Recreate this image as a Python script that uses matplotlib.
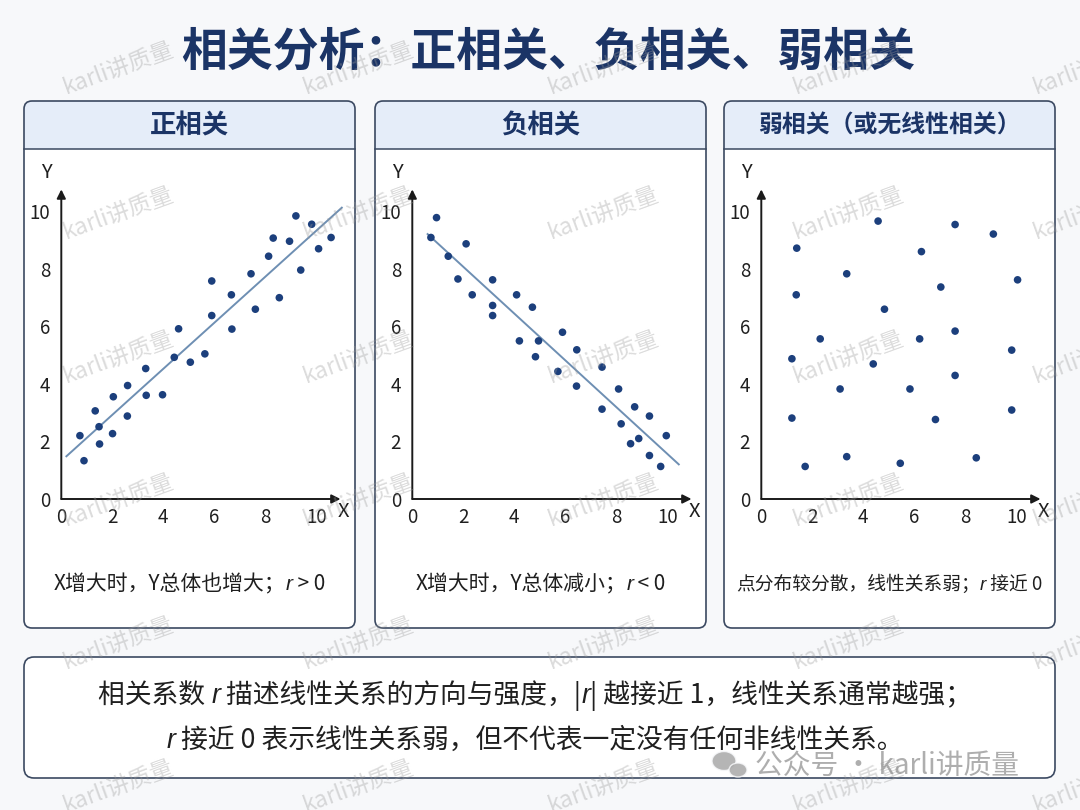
import matplotlib.pyplot as plt
import numpy as np
from matplotlib.patches import FancyBboxPatch, Rectangle, Ellipse

# ================= DATA =================
TITLE = "相关分析：正相关、负相关、弱相关"
PANEL_TITLES = ["正相关", "负相关", "弱相关（或无线性相关）"]

POS_X = [0.73, 0.89, 1.33, 1.48, 1.50, 2.04, 2.01, 2.60, 2.59, 3.31, 3.33, 3.97, 4.43, 4.60, 5.06, 5.63,
         5.90, 5.90, 6.67, 6.69, 7.44, 7.61, 8.13, 8.31, 8.55, 8.95, 9.20, 9.39, 9.82, 10.09, 10.58]
POS_Y = [2.20, 1.33, 3.06, 2.51, 1.91, 3.55, 2.27, 3.94, 2.88, 4.53, 3.60, 3.62, 4.92, 5.91, 4.75, 5.04,
         7.57, 6.37, 7.09, 5.90, 7.82, 6.59, 8.43, 9.06, 6.99, 8.95, 9.83, 7.95, 9.54, 8.69, 9.08]

NEG_X = [0.73, 0.95, 1.41, 1.79, 2.11, 2.35, 3.15, 3.15, 3.15, 4.09, 4.20, 4.71, 4.83, 4.95, 5.71,
         5.89, 6.45, 6.44, 7.44, 7.44, 8.09, 8.19, 8.56, 8.72, 8.88, 9.30, 9.30, 9.74, 9.96]
NEG_Y = [9.08, 9.77, 8.43, 7.64, 8.86, 7.09, 7.61, 6.72, 6.37, 7.09, 5.49, 6.66, 4.94, 5.49, 4.43,
         5.79, 5.18, 3.92, 4.58, 3.12, 3.82, 2.61, 1.92, 3.20, 2.10, 2.88, 1.51, 1.13, 2.20]

WEAK_X = [4.58, 7.60, 9.10, 1.39, 6.28, 3.35, 10.05, 1.37, 7.04, 4.83, 2.31, 6.21, 7.60,
          1.20, 4.39, 9.82, 7.60, 3.09, 5.83, 1.20, 6.83, 9.82, 1.72, 3.35, 5.45, 8.43]
WEAK_Y = [9.65, 9.53, 9.20, 8.71, 8.59, 7.82, 7.61, 7.09, 7.36, 6.59, 5.56, 5.56, 5.83,
          4.87, 4.69, 5.17, 4.29, 3.82, 3.82, 2.81, 2.76, 3.09, 1.13, 1.47, 1.24, 1.43]

TICKS = [0, 2, 4, 6, 8, 10]

# caption pieces: (text, italic)
CAPTIONS = [
    [("X增大时，Y总体也增大；", False), ("r", True), (" > 0", False)],
    [("X增大时，Y总体减小；", False), ("r", True), (" < 0", False)],
    [("点分布较分散，线性关系弱；", False), ("r", True), (" 接近 0", False)],
]
NOTE_LINES = [
    [("相关系数 ", False), ("r", True), (" 描述线性关系的方向与强度，|", False), ("r", True),
     ("| 越接近 1，线性关系通常越强；", False)],
    [("r", True), (" 接近 0 表示线性关系弱，但不代表一定没有任何非线性关系。", False)],
]

# ================= STYLE =================
W, H = 1080, 810
BG = "#f7f8fa"
NAVY = "#1b3466"
DOT = "#1c3f7c"
FIT = "#6e8fb3"
BORDER = "#3b4961"
HEAD_FILL = "#e5edf9"
TEXT = "#1f1f1f"
CJK = ["Noto Sans CJK SC", "DejaVu Sans"]
ITALIC_FAMILY = ["Liberation Sans", "DejaVu Sans"]

plt.rcParams["font.family"] = CJK

fig = plt.figure(figsize=(W / 100, H / 100), dpi=100, facecolor=BG)
renderer = fig.canvas.get_renderer()


def inch(px, py):
    # convert top-left pixel coords to inches from bottom-left
    return px / 100, (H - py) / 100


def round_box(x0, y0, x1, y1, fc, ec="none", lw=0.0, r=0.08, z=0.5):
    bx, by = inch(x0, y1)
    p = FancyBboxPatch((bx, by), (x1 - x0) / 100, (y1 - y0) / 100,
                       boxstyle=f"round,pad=0,rounding_size={r}",
                       transform=fig.dpi_scale_trans, facecolor=fc, edgecolor=ec,
                       linewidth=lw, zorder=z)
    fig.patches.append(p)


def rich_text(cx, base_y, pieces, size, color=TEXT):
    texts = []
    for s, it in pieces:
        t = fig.text(0, 1 - base_y / H, s, fontsize=size, color=color, va="baseline", ha="left",
                     family=ITALIC_FAMILY if it else CJK, style="italic" if it else "normal",
                     zorder=3)
        texts.append(t)
    widths = [t.get_window_extent(renderer).width for t in texts]
    x = cx - sum(widths) / 2
    for t, w in zip(texts, widths):
        t.set_x(x / W)
        x += w


# title
fig.text(548 / W, 1 - 52 / H, TITLE, fontsize=33, fontweight="bold", color=NAVY,
         ha="center", va="center", zorder=3)

# ================= PANELS =================
panel_left = [24, 375, 724]
panel_w = 331
top, head_bot, bottom = 101, 149, 628
datasets = [(POS_X, POS_Y, (0.2, 11.0)), (NEG_X, NEG_Y, (0.6, 10.45)), (WEAK_X, WEAK_Y, None)]
head_sizes = [19, 19, 17.2]
cap_sizes = [15, 15, 13.5]

for i, pl in enumerate(panel_left):
    pr = pl + panel_w
    round_box(pl, top, pr, bottom, "white")
    round_box(pl, top, pr, head_bot, HEAD_FILL)
    bx, by = inch(pl, head_bot)
    fig.patches.append(Rectangle((bx, by), panel_w / 100, 0.1, transform=fig.dpi_scale_trans,
                                 facecolor=HEAD_FILL, edgecolor="none", zorder=0.6))
    fig.add_artist(plt.Line2D([pl / W, pr / W], [1 - head_bot / H] * 2, color=BORDER, lw=1.1, zorder=0.7))
    round_box(pl, top, pr, bottom, "none", BORDER, 1.2, z=0.8)

    fig.text((pl + pr) / 2 / W, 1 - 126 / H, PANEL_TITLES[i], fontsize=head_sizes[i],
             fontweight="bold", color=NAVY, ha="center", va="center", zorder=3)
    rich_text((pl + pr) / 2, 590, CAPTIONS[i], cap_sizes[i])

    # scatter axes
    ox, oy = pl + 37.3, 499
    ax = fig.add_axes([ox / W, (H - oy) / H, 11.2 * 25.5 / W, 11 * 28.8 / H])
    ax.set_zorder(2)
    ax.patch.set_alpha(0)
    ax.set_xlim(0, 11.2)
    ax.set_ylim(0, 11)
    for sp in ax.spines.values():
        sp.set_visible(False)
    ax.set_xticks(TICKS)
    ax.set_yticks(TICKS)
    ax.tick_params(length=0, labelsize=13.5, labelcolor=TEXT, pad=6)
    ax.tick_params(axis="y", pad=8)

    arrow = dict(arrowstyle="-|>", color="#1a1a1a", lw=1.4, mutation_scale=13, shrinkA=0, shrinkB=0)
    ax.annotate("", xy=(10.95, 0), xytext=(0, 0), arrowprops=arrow, annotation_clip=False)
    ax.annotate("", xy=(0, 10.75), xytext=(0, 0), arrowprops=arrow, annotation_clip=False)
    ax.text(-0.6, 11.35, "Y", fontsize=14.5, color=TEXT, ha="center", va="center", clip_on=False)
    ax.text(11.05, -0.45, "X", fontsize=14.5, color=TEXT, ha="center", va="center", clip_on=False)

    xs, ys, line_x = datasets[i]
    if line_x is not None:
        k, b = np.polyfit(xs, ys, 1)
        lx = np.array(line_x)
        ax.plot(lx, k * lx + b, color=FIT, lw=1.4, zorder=2, clip_on=False)
    ax.scatter(xs, ys, s=30, color=DOT, edgecolors="none", zorder=3, clip_on=False)

# ================= NOTE BOX =================
round_box(24, 657, 1055, 778, "white", BORDER, 1.2, r=0.1)
rich_text(535, 703, NOTE_LINES[0], 19.3)
rich_text(535, 748, NOTE_LINES[1], 19.3)

# ================= WATERMARKS =================
WM_X = [118, 358, 603, 848, 1088]
WM_Y = [68, 213, 357, 500, 643, 786]
for wy in WM_Y:
    for wx in WM_X:
        fig.text(wx / W, 1 - wy / H, "karli讲质量", fontsize=16.5, color="#9a9a9a", alpha=0.35,
                 rotation=20, ha="center", va="center", zorder=10)

# footer logo + account name
fig.text(755 / W, 1 - 766 / H, "公众号 · karli讲质量", fontsize=20, color="#8c8c8c", alpha=0.7,
         ha="left", va="center", zorder=11)
for (ex, ey, ew, eh) in [(724, 761, 24, 19), (738, 770, 18, 14)]:
    cx, cy = inch(ex, ey)
    fig.patches.append(Ellipse((cx, cy), ew / 100, eh / 100, transform=fig.dpi_scale_trans,
                               facecolor="#a8a8a8", edgecolor=BG, lw=1.0, alpha=0.85, zorder=11))

fig.savefig("out.png", dpi=100, facecolor=BG)
